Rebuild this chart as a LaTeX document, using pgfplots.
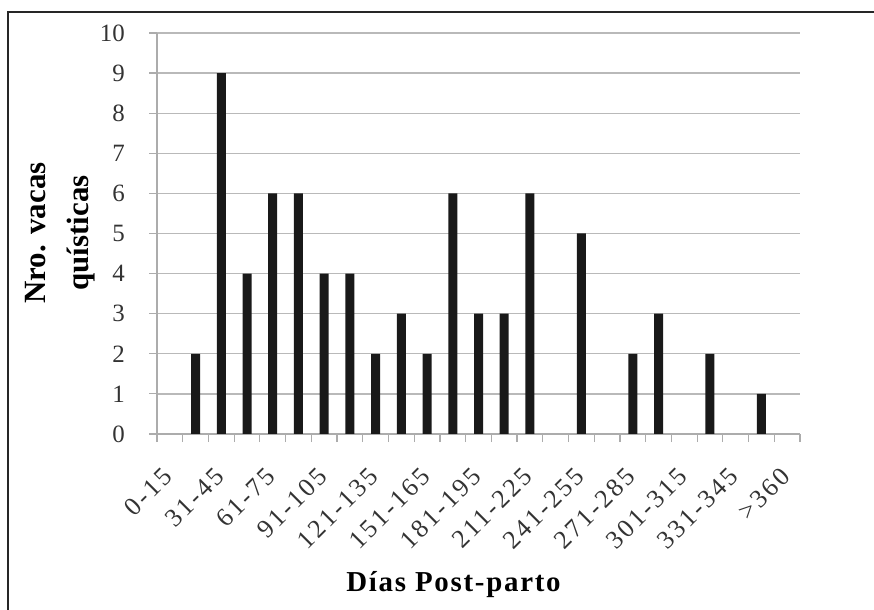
\documentclass[border=0pt]{standalone}
\usepackage{pgfplots}
\pgfplotsset{compat=1.18}
\usepackage{fontspec}
\setmainfont{Liberation Serif}
% the scanned original sets its text loosely
\newfontfamily\widefont[LetterSpace=10]{Liberation Serif}
\newfontfamily\titlefont[LetterSpace=6]{Liberation Serif}

% counts per 15-day class, classes plotted at 0..24
\begin{document}
\begin{tikzpicture}
\path[use as bounding box] (0,0) rectangle (874bp,610bp);
\draw[black!85, line width=2bp] (8bp,0) -- (8bp,598bp) -- (874bp,598bp);

\begin{axis}[
    at={(157bp,176bp)}, anchor=south west,
    scale only axis,
    width=643bp, height=401bp,
    xmin=-0.5, xmax=24.5,
    ymin=0, ymax=10,
    axis lines*=left,
    axis line style={draw=gray!65, line width=1.3bp},
    tick align=outside,
    major tick length=8bp,
    minor tick length=8bp,
    tick style={draw=gray!65, line width=1.2bp},
    xtick={0,2,...,24},
    xticklabels={0-15,31-45,61-75,91-105,121-135,151-165,181-195,211-225,241-255,271-285,301-315,331-345,>360},
    minor xtick={-0.5,0.5,...,24.5},
    major x tick style={draw=none},
    xticklabel style={yshift=-24bp, xshift=-8bp, rotate=45, anchor=north east,
                      inner sep=0pt, text=black!80,
                      font=\widefont\fontsize{26}{26}\selectfont},
    ytick={0,1,...,10},
    ymajorgrids,
    grid style={draw=gray!55, line width=1.3bp},
    yticklabel style={text=black!80, inner sep=0pt, xshift=-24bp,
                      font=\fontsize{25}{25}\selectfont},
    /pgf/number format/assume math mode=true,
    ybar,
    bar width=9bp,
]
\addplot[fill=black!90, draw=none] coordinates {
    (1,2) (2,9) (3,4) (4,6) (5,6) (6,4) (7,4) (8,2) (9,3) (10,2)
    (11,6) (12,3) (13,3) (14,6) (16,5) (18,2) (19,3) (21,2) (23,1)
};
\end{axis}

\node[anchor=base, font=\titlefont\fontsize{29}{29}\selectfont\bfseries] at (453.5bp,19bp)
    {Días Post-parto};
\node[rotate=90, align=center, font=\fontsize{31}{43}\selectfont\bfseries] at (60bp,377bp)
    {Nro. vacas\\quísticas};
\end{tikzpicture}
\end{document}
